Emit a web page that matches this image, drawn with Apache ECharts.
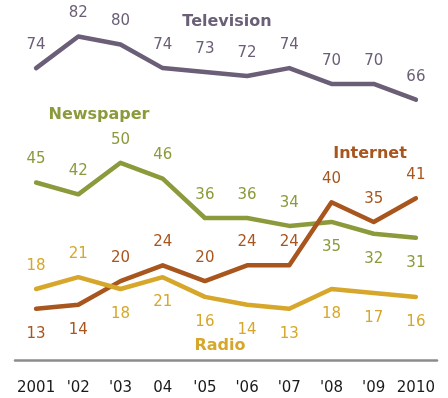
<!DOCTYPE html>
<html><head><meta charset="utf-8">
<script src="https://cdn.jsdelivr.net/npm/echarts@6/dist/echarts.min.js"></script>
<style>html,body{margin:0;padding:0;background:#fff}#c{width:448px;height:398px}</style>
</head><body><div id="c"></div>
<script>
const years = ['2001', "'02", "'03", '04', "'05", "'06", "'07", "'08", "'09", '2010'];
const television = [74, 82, 80, 74, 73, 72, 74, 70, 70, 66];
const newspaper = [45, 42, 50, 46, 36, 36, 34, 35, 32, 31];
const internet = [13, 14, 20, 24, 20, 24, 24, 40, 35, 41];
const radio = [18, 21, 18, 21, 16, 14, 13, 18, 17, 16];

// label side per point (style, not data)
const tvSide = ['t','t','t','t','t','t','t','t','t','t'];
const npSide = ['t','t','t','t','t','t','t','b','b','b'];
const inSide = ['b','b','t','t','t','t','t','t','t','t'];
const raSide = ['t','t','b','b','b','b','b','b','b','b'];

const FONT = 'DejaVu Sans';
function mk(name, vals, sides, color) {
  return {
    name, type: 'line', symbol: 'circle', symbolSize: 1, showSymbol: true,
    itemStyle: {color: 'rgba(0,0,0,0)', borderWidth: 0},
    lineStyle: {color, width: 4.5, cap: 'round', join: 'round'},
    silent: true, animation: false,
    data: vals.map((v, i) => ({
      value: v,
      label: {show: true, position: 'inside', offset: [0, sides[i] === 't' ? -23 : 25],
        color, fontFamily: FONT, fontSize: 15, formatter: '{c}'}
    }))
  };
}
const chart = echarts.init(document.getElementById('c'));
chart.setOption({
  animation: false,
  grid: {left: 15, right: 11, top: 5, bottom: 38},
  xAxis: {type: 'category', data: years, boundaryGap: true,
    axisLine: {lineStyle: {color: '#8c8c8c', width: 2.5}},
    axisTick: {show: false},
    axisLabel: {color: '#1a1a1a', fontFamily: FONT, fontSize: 15, margin: 21, interval: 0}},
  yAxis: {type: 'value', min: 0, max: 90, show: false, splitLine: {show: false}},
  series: [
    mk('Television', television, tvSide, '#6b5f78'),
    mk('Newspaper', newspaper, npSide, '#8c9a3c'),
    mk('Internet', internet, inSide, '#a8561e'),
    mk('Radio', radio, raSide, '#d6a72a')
  ],
  graphic: [
    {type: 'text', x: 227, y: 22, style: {text: 'Television', fill: '#6b5f78', font: 'bold 16px "DejaVu Sans"', align: 'center', verticalAlign: 'middle'}},
    {type: 'text', x: 99, y: 115, style: {text: 'Newspaper', fill: '#8c9a3c', font: 'bold 16px "DejaVu Sans"', align: 'center', verticalAlign: 'middle'}},
    {type: 'text', x: 370, y: 154, style: {text: 'Internet', fill: '#a8561e', font: 'bold 16px "DejaVu Sans"', align: 'center', verticalAlign: 'middle'}},
    {type: 'text', x: 220, y: 346, style: {text: 'Radio', fill: '#d6a72a', font: 'bold 16px "DejaVu Sans"', align: 'center', verticalAlign: 'middle'}}
  ]
});
</script></body></html>
